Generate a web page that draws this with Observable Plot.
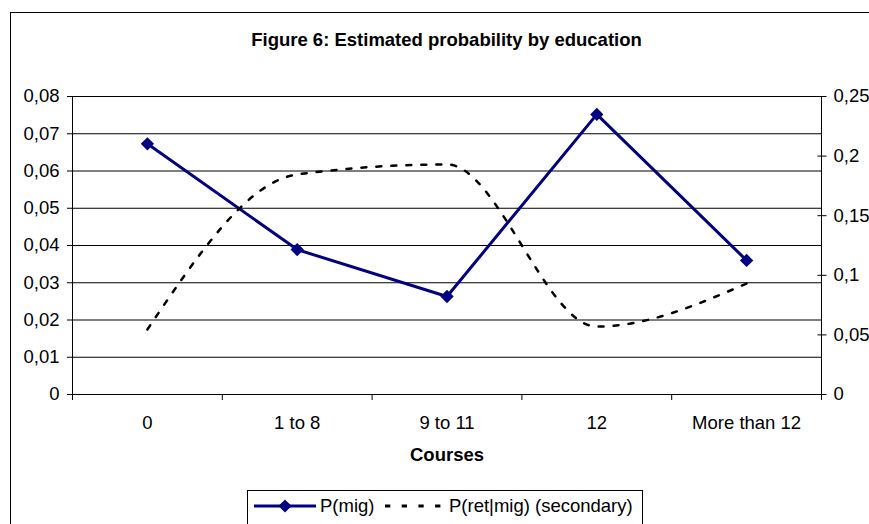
<!DOCTYPE html>
<html>
<head>
<meta charset="utf-8">
<script src="https://cdn.jsdelivr.net/npm/d3@7"></script>
<script src="https://cdn.jsdelivr.net/npm/@observablehq/plot@0.6"></script>
<style>
  html, body { margin: 0; padding: 0; background: #fff; overflow: hidden; }
  #wrap { position: relative; width: 869px; height: 524px; overflow: hidden; font-family: "Liberation Sans", Arial, sans-serif; color: #000; }
  #frame { position: absolute; left: 10px; top: 12px; width: 900px; height: 600px; border: 1px solid #000; box-sizing: border-box; }
  #title { position: absolute; left: 0; top: 29px; width: 893px; text-align: center; font-weight: bold; font-size: 18.5px; line-height: 22px; }
  #legend { position: absolute; left: 247px; top: 490px; width: 396px; height: 50px; border: 1px solid #000; box-sizing: border-box; background: #fff; }
  #chart { position: absolute; left: 0; top: 0; }
</style>
</head>
<body>
<div id="wrap">
  <div id="frame"></div>
  <div id="chart"></div>
  <div id="title">Figure 6: Estimated probability by education</div>
  <div id="legend"></div>
</div>
<script>
const categories = ["0", "1 to 8", "9 to 11", "12", "More than 12"];
const pMig = [0.0673, 0.0389, 0.0263, 0.0752, 0.0360];
const pRetMig = [0.0545, 0.1846, 0.1930, 0.0570, 0.0931];
const leftTicks = [0, 0.01, 0.02, 0.03, 0.04, 0.05, 0.06, 0.07, 0.08];
const leftTickLabels = ["0", "0,01", "0,02", "0,03", "0,04", "0,05", "0,06", "0,07", "0,08"];
const rightTicks = [0, 0.05, 0.1, 0.15, 0.2, 0.25];
const rightTickLabels = ["0", "0,05", "0,1", "0,15", "0,2", "0,25"];
const leftMax = 0.08, rightMax = 0.25;
const seriesNames = ["P(mig)", "P(ret|mig) (secondary)"];
const xTitle = "Courses";

const k = leftMax / rightMax;
const idx = d3.range(categories.length);
const migData = idx.map(i => ({i, v: pMig[i]}));
const retData = idx.map(i => ({i, v: pRetMig[i] * k}));
const rightScaled = rightTicks.map(t => t * k);
const bounds = d3.range(categories.length + 1).map(j => j - 0.5);

const chart = Plot.plot({
  width: 869,
  height: 524,
  marginLeft: 72,
  marginRight: 48,
  marginTop: 96,
  marginBottom: 130,
  style: {fontFamily: "'Liberation Sans', Arial, sans-serif", fontSize: "18.5px", color: "#000", background: "transparent", overflow: "visible"},
  x: {domain: [-0.5, categories.length - 0.5], axis: null},
  y: {domain: [0, leftMax], axis: null},
  marks: [
    Plot.ruleY(leftTicks, {stroke: "#000", strokeWidth: 1}),
    Plot.frame({stroke: "#000", strokeWidth: 1}),
    Plot.axisY(leftTicks, {anchor: "left", tickSize: 5, tickPadding: 8, tickFormat: d => leftTickLabels[leftTicks.indexOf(d)], label: null}),
    Plot.axisY(rightScaled, {anchor: "right", tickSize: 9, dx: -4.5, tickFormat: () => "", label: null}),
    Plot.axisY(rightScaled, {anchor: "right", tickSize: 0, tickPadding: 12, tickFormat: d => rightTickLabels[rightScaled.indexOf(d)], label: null}),
    Plot.axisX(bounds, {anchor: "bottom", tickSize: 6, tickFormat: () => "", label: null}),
    Plot.axisX(idx, {anchor: "bottom", tickSize: 0, tickPadding: 21, tickFormat: i => categories[i], label: null}),
    Plot.text([xTitle], {frameAnchor: "bottom", dy: 61, fontWeight: "bold", fill: "#000", lineAnchor: "middle"}),
    Plot.line(migData, {x: "i", y: "v", stroke: "#000080", strokeWidth: 3}),
    Plot.dot(migData, {x: "i", y: "v", symbol: "diamond2", r: 6, fill: "#000080", stroke: "none"}),
    Plot.line(retData, {x: "i", y: "v", curve: "monotone-x", stroke: "#000", strokeWidth: 2.5, strokeDasharray: "5,10"})
  ]
});
document.getElementById("chart").appendChild(chart);

// legend
const lg = d3.select("#legend").append("svg").attr("width", 396).attr("height", 50)
  .style("font-family", "'Liberation Sans', Arial, sans-serif").style("font-size", "18.5px");
lg.append("line").attr("x1", 6).attr("x2", 68).attr("y1", 15).attr("y2", 15).attr("stroke", "#000080").attr("stroke-width", 3);
lg.append("path").attr("d", d3.symbol(d3.symbolDiamond2, 110)()).attr("transform", "translate(37,15)").attr("fill", "#000080");
lg.append("text").attr("x", 72).attr("y", 15).attr("dy", "0.35em").text(seriesNames[0]);
lg.append("line").attr("x1", 137).attr("x2", 196).attr("y1", 15).attr("y2", 15).attr("stroke", "#000").attr("stroke-width", 3).attr("stroke-dasharray", "5.3,11.4");
lg.append("text").attr("x", 201).attr("y", 15).attr("dy", "0.35em").text(seriesNames[1]);
</script>
</body>
</html>
